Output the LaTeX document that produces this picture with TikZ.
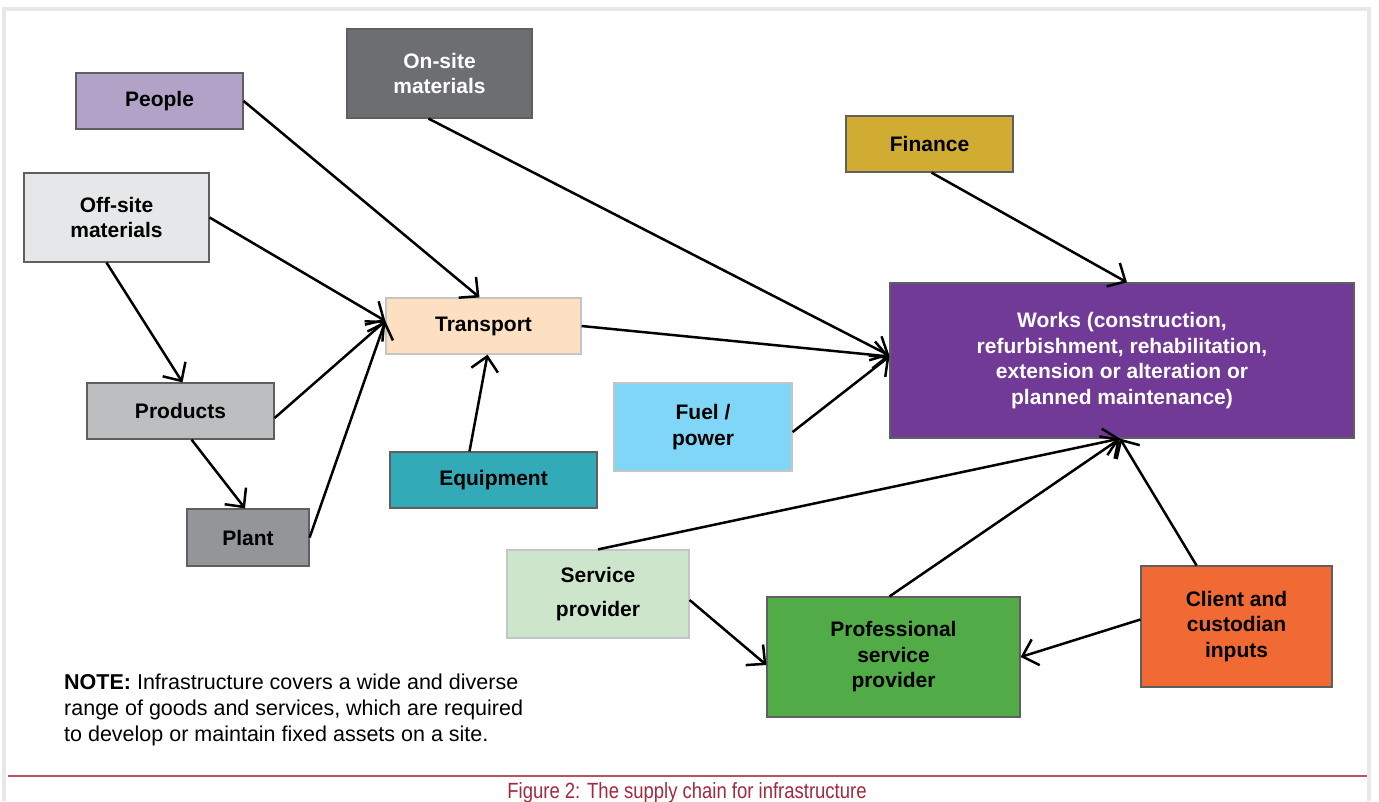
\documentclass[tikz,border=0pt]{standalone}
\usepackage{fontspec}
\setmainfont{Liberation Sans}
\newfontfamily\captionfont[FakeStretch=0.84]{Liberation Sans}
\usetikzlibrary{arrows.meta}
\definecolor{boxline}{HTML}{5E5F61}
\definecolor{lightline}{HTML}{C4C5C7}
\definecolor{peoplecol}{HTML}{B3A2C7}
\definecolor{onsitecol}{HTML}{6D6E71}
\definecolor{offsitecol}{HTML}{E6E7E8}
\definecolor{financecol}{HTML}{D0AC33}
\definecolor{transportcol}{HTML}{FDE0C2}
\definecolor{workscol}{HTML}{703A96}
\definecolor{productscol}{HTML}{BCBEC0}
\definecolor{fuelcol}{HTML}{80D6F7}
\definecolor{equipmentcol}{HTML}{33AAB7}
\definecolor{plantcol}{HTML}{939598}
\definecolor{servicecol}{HTML}{CDE6CB}
\definecolor{profcol}{HTML}{51AC48}
\definecolor{clientcol}{HTML}{F16A33}
\definecolor{capred}{HTML}{A32A3D}
\definecolor{rulered}{HTML}{B9535F}
\tikzset{
  BoxStyle/.style = { rectangle, draw = boxline, line width = 1.2pt,
                      inner sep = 0pt, align = center,
                      font = \fontsize{21}{25.5}\selectfont\bfseries },
  LightBoxStyle/.style = { BoxStyle, draw = lightline },
  EdgeStyle/.style = { -{Straight Barb[length=14pt,width=27pt]},
                       line width = 2.5pt },
  NoteStyle/.style = { align = left, inner sep = 0pt,
                       font = \fontsize{21.5}{26}\selectfont } }

\begin{document}
\begin{tikzpicture}[x=1pt, y=-1pt]
  \useasboundingbox (0,0) rectangle (1379,801);
  % page panel
  \fill[white] (0,0) rectangle (1379,801);
  \fill[black!9] (2,7) rectangle (1371,801);
  \fill[white] (6,11) rectangle (1367,801);
  \draw[rulered, line width=2pt] (8,776) -- (1367,776);

  \node[BoxStyle, fill=peoplecol, minimum width=167pt, minimum height=56pt]
    (People) at (159.5,101) {People};
  \node[BoxStyle, fill=onsitecol, text=white, minimum width=185pt, minimum height=89pt]
    (OnSite) at (439.5,73.5) {On-site\\materials};
  \node[BoxStyle, fill=offsitecol, minimum width=185pt, minimum height=89pt]
    (OffSite) at (116.5,217.5) {Off-site\\materials};
  \node[BoxStyle, fill=financecol, minimum width=167pt, minimum height=56pt]
    (Finance) at (929.5,144) {Finance};
  \node[LightBoxStyle, fill=transportcol, minimum width=195pt, minimum height=56pt]
    (Transport) at (483.5,326) {Transport};
  \node[BoxStyle, fill=workscol, text=white, minimum width=464pt, minimum height=155pt]
    (Works) at (1122,360.5) {Works (construction,\\refurbishment, rehabilitation,\\extension or alteration or\\planned maintenance)};
  \node[BoxStyle, fill=productscol, minimum width=187pt, minimum height=56pt]
    (Products) at (180.5,411) {Products};
  \node[LightBoxStyle, fill=fuelcol, minimum width=178pt, minimum height=88pt]
    (Fuel) at (703,427) {Fuel /\\power};
  \node[BoxStyle, fill=equipmentcol, minimum width=207pt, minimum height=56pt]
    (Equipment) at (493.5,480) {Equipment};
  \node[BoxStyle, fill=plantcol, minimum width=122pt, minimum height=57pt]
    (Plant) at (248,537.5) {Plant};
  \node[LightBoxStyle, fill=servicecol, minimum width=182pt, minimum height=88pt]
    (Service) at (598,594) {Service\\[9pt]provider};
  \node[BoxStyle, fill=profcol, minimum width=253pt, minimum height=120pt]
    (Professional) at (893.5,657) {Professional\\service\\provider};
  \node[BoxStyle, fill=clientcol, minimum width=191pt, minimum height=121pt]
    (Client) at (1236.5,626.5) {Client and\\custodian\\inputs};

  \node[NoteStyle, anchor=north west] (Note) at (64,674)
    {\textbf{NOTE:} Infrastructure covers a wide and diverse\\
     range of goods and services, which are required\\
     to develop or maintain fixed assets on a site.};
  \node[font=\captionfont\fontsize{22}{26}\selectfont, text=capred, anchor=base]
    (Caption) at (687,798) {Figure 2: The supply chain for infrastructure};

  % into Transport
  \draw[EdgeStyle] (People.east) -- ([xshift=-4pt]Transport.north);
  \draw[EdgeStyle] (OffSite.east) -- ([yshift=5pt]Transport.west);
  \draw[EdgeStyle] ([yshift=-7pt]Products.east) -- ([yshift=5pt]Transport.west);
  \draw[EdgeStyle] (Plant.east) -- ([yshift=5pt]Transport.west);
  \draw[EdgeStyle] ([xshift=-24pt]Equipment.north) -- ([xshift=4pt]Transport.south);
  \draw[EdgeStyle] ([xshift=-10pt]OffSite.south) -- ([xshift=2pt]Products.north);
  \draw[EdgeStyle] ([xshift=11pt]Products.south) -- ([xshift=-3pt]Plant.north);
  % into Works
  \draw[EdgeStyle] ([xshift=-11pt]OnSite.south) -- ([yshift=5pt]Works.west);
  \draw[EdgeStyle] (Transport.east) -- ([yshift=4pt]Works.west);
  \draw[EdgeStyle] ([yshift=-5pt]Fuel.east) -- ([yshift=4pt]Works.west);
  \draw[EdgeStyle] ([xshift=2pt]Finance.south) -- ([xshift=5pt]Works.north);
  \draw[EdgeStyle] (Service.north) -- ([xshift=-2pt]Works.south);
  \draw[EdgeStyle] ([xshift=-4pt]Professional.north) -- ([xshift=-2pt]Works.south);
  \draw[EdgeStyle] ([xshift=-40pt]Client.north) -- ([xshift=-2pt]Works.south);
  % into Professional
  \draw[EdgeStyle] ([yshift=-6pt]Service.east) -- ([yshift=-8pt]Professional.west);
  \draw[EdgeStyle] ([yshift=7pt]Client.west) -- (Professional.east);
\end{tikzpicture}
\end{document}
